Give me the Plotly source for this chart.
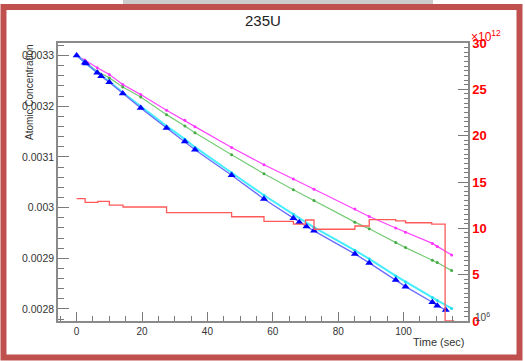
import plotly.graph_objects as go

# ---------------- data ----------------
time_blue = [0, 2.5, 2.9, 6.3, 7.5, 10.0, 14.1, 19.6, 27.5, 33.1, 36.2, 47.4, 57.3,
             66.3, 68.1, 70.3, 72.6, 85.1, 89.5, 97.6, 100.6, 108.8, 110.3, 112.9]
conc_blue = [0.0033, 0.0032856, 0.0032842, 0.0032658, 0.0032591, 0.0032472, 0.0032249,
             0.0031966, 0.0031571, 0.0031306, 0.0031142, 0.0030638, 0.0030170, 0.0029792,
             0.0029713, 0.0029626, 0.0029541, 0.0029087, 0.0028909, 0.0028573, 0.0028441,
             0.0028132, 0.0028065, 0.0027980]

time_other = [0, 2.5, 6.3, 10.0, 14.1, 19.6, 27.5, 33.1, 36.2, 47.4, 57.3, 66.3, 72.6,
              85.1, 89.5, 97.6, 100.6, 108.8, 110.3, 114.7]
conc_cyan = [0.0033010, 0.0032862, 0.0032664, 0.0032486, 0.0032269, 0.0031992, 0.0031607,
             0.0031350, 0.0031192, 0.0030688, 0.0030243, 0.0029868, 0.0029611, 0.0029157,
             0.0028988, 0.0028652, 0.0028534, 0.0028227, 0.0028168, 0.0028010]
conc_green = [0.0033, 0.0032883, 0.0032690, 0.0032559, 0.0032381, 0.0032180, 0.0031834,
              0.0031611, 0.0031478, 0.0031043, 0.0030668, 0.0030352, 0.0030138, 0.0029713,
              0.0029581, 0.0029310, 0.0029211, 0.0028960, 0.0028915, 0.0028757]
conc_magenta = [0.0033, 0.0032911, 0.0032757, 0.0032625, 0.0032427, 0.0032229, 0.0031919,
                0.0031721, 0.0031597, 0.0031186, 0.0030846, 0.0030563, 0.0030364, 0.0029970,
                0.0029824, 0.0029597, 0.0029512, 0.0029294, 0.0029235, 0.0029067]

step_time = [0, 2.6, 6.5, 10.0, 14.2, 27.5, 47.4, 57.3, 66.3, 70.0, 72.6, 85.1, 89.5,
             97.6, 100.6, 108.6, 112.7, 115.5]
step_value = [13.2, 12.8, 12.9, 12.5, 12.3, 11.7, 11.25, 10.75, 10.45, 10.9, 9.9, 10.25,
              10.95, 10.8, 10.6, 10.45, 0, 0]   # units of 1e12

x_ticks = [0, 20, 40, 60, 80, 100]
y_ticks = [0.0028, 0.0029, 0.003, 0.0031, 0.0032, 0.0033]
y_tick_labels = ["0.0028", "0.0029", "0.003", "0.0031", "0.0032", "0.0033"]
y2_ticks = [0, 5, 10, 15, 20, 25, 30]
y2_tick_labels = ["0", "5", "10", "15", "20", "25", "30"]

title_text = "235U"
x_title = "Time (sec)"
y_title = "Atomic Concentration"

# ---------------- geometry ----------------
W, H = 525, 361
L, R, T, B = 58, 468, 43, 321
FONT = "Liberation Sans, Arial, Helvetica, sans-serif"


def px(x):
    return (x - L) / (R - L)


def py(y):
    return (B - y) / (B - T)


fig = go.Figure()

fig.add_trace(go.Scatter(x=step_time, y=step_value, yaxis="y2", mode="lines",
                         line=dict(color="#ff5a5a", width=1.3, shape="hv"),
                         showlegend=False))
fig.add_trace(go.Scatter(x=time_other, y=conc_magenta, mode="lines+markers",
                         line=dict(color="#ff44ff", width=1.2),
                         marker=dict(color="#ff33ff", size=3), showlegend=False))
fig.add_trace(go.Scatter(x=time_other, y=conc_green, mode="lines+markers",
                         line=dict(color="#77cc77", width=1.2),
                         marker=dict(color="#44aa44", size=3), showlegend=False))
fig.add_trace(go.Scatter(x=time_other, y=conc_cyan, mode="lines+markers",
                         line=dict(color="#44eeff", width=2),
                         marker=dict(color="#22ddee", size=3), showlegend=False))
fig.add_trace(go.Scatter(x=time_blue, y=conc_blue, mode="lines+markers",
                         line=dict(color="#6a6aff", width=1.3),
                         marker=dict(color="#0000ff", size=7, symbol="triangle-up"),
                         showlegend=False))

axis_common = dict(showgrid=False, zeroline=False, showline=True,
                   linecolor="#8a8a8a", linewidth=1.5, ticks="inside",
                   tickcolor="#7a7a7a", tickwidth=1)

fig.update_layout(
    width=W, height=H,
    margin=dict(l=L, r=W - R, t=T, b=H - B, pad=0),
    paper_bgcolor="white", plot_bgcolor="white",
    font=dict(family=FONT, color="#333333"),
    xaxis=dict(range=[-5.7, 119.7], tickmode="array", tickvals=x_ticks,
               ticklen=9, mirror=True, tickfont=dict(size=10, color="#333"),
               minor=dict(tickmode="linear", tick0=0, dtick=5, ticklen=5,
                          ticks="inside", tickcolor="#7a7a7a"),
               **axis_common),
    yaxis=dict(range=[0.0027763, 0.0033247], tickmode="array", tickvals=y_ticks,
               ticktext=y_tick_labels, ticklen=11, tickfont=dict(size=10.5, color="#333"),
               minor=dict(tickmode="linear", tick0=0.0028, dtick=0.00002, ticklen=6,
                          ticks="inside", tickcolor="#7a7a7a"),
               **axis_common),
    yaxis2=dict(overlaying="y", side="right", range=[0, 30], tickmode="array",
                tickvals=y2_ticks, ticktext=y2_tick_labels, ticklen=10,
                tickfont=dict(size=13, color="#ff0000", weight="bold"),
                minor=dict(tickmode="linear", tick0=0, dtick=0.5, ticklen=4,
                           ticks="inside", tickcolor="#7a7a7a"),
                **axis_common),
)

ann = [
    dict(text=title_text, x=px(263), y=py(20), xanchor="center", yanchor="middle",
         font=dict(size=15, color="#222")),
    dict(text=x_title, x=px(467), y=py(342), xanchor="right", yanchor="middle",
         font=dict(size=11, color="#333")),
    dict(text=y_title, x=px(29), y=py(42), xanchor="center", yanchor="top",
         textangle=-90, font=dict(size=10, color="#333")),
    dict(text="×10<sup>12</sup>", x=px(469), y=py(36), xanchor="left", yanchor="middle",
         font=dict(size=12, color="#ff0000")),
    dict(text="10<sup>6</sup>", x=px(473), y=py(317), xanchor="left", yanchor="middle",
         font=dict(size=10, color="#444")),
]
for a in ann:
    a.update(xref="paper", yref="paper", showarrow=False)
fig.update_layout(annotations=ann)

# card frame (shadow + red border)
fig.add_shape(type="rect", xref="paper", yref="paper", layer="below",
              x0=px(123), x1=px(433), y0=py(0), y1=py(4.5),
              fillcolor="#cccccc", line=dict(width=0))
fig.add_shape(type="rect", xref="paper", yref="paper", layer="above",
              x0=px(3.5), x1=px(519.5), y0=py(357.5), y1=py(7),
              fillcolor="rgba(0,0,0,0)", line=dict(color="#c0504d", width=6))

fig.write_html("out.html")
